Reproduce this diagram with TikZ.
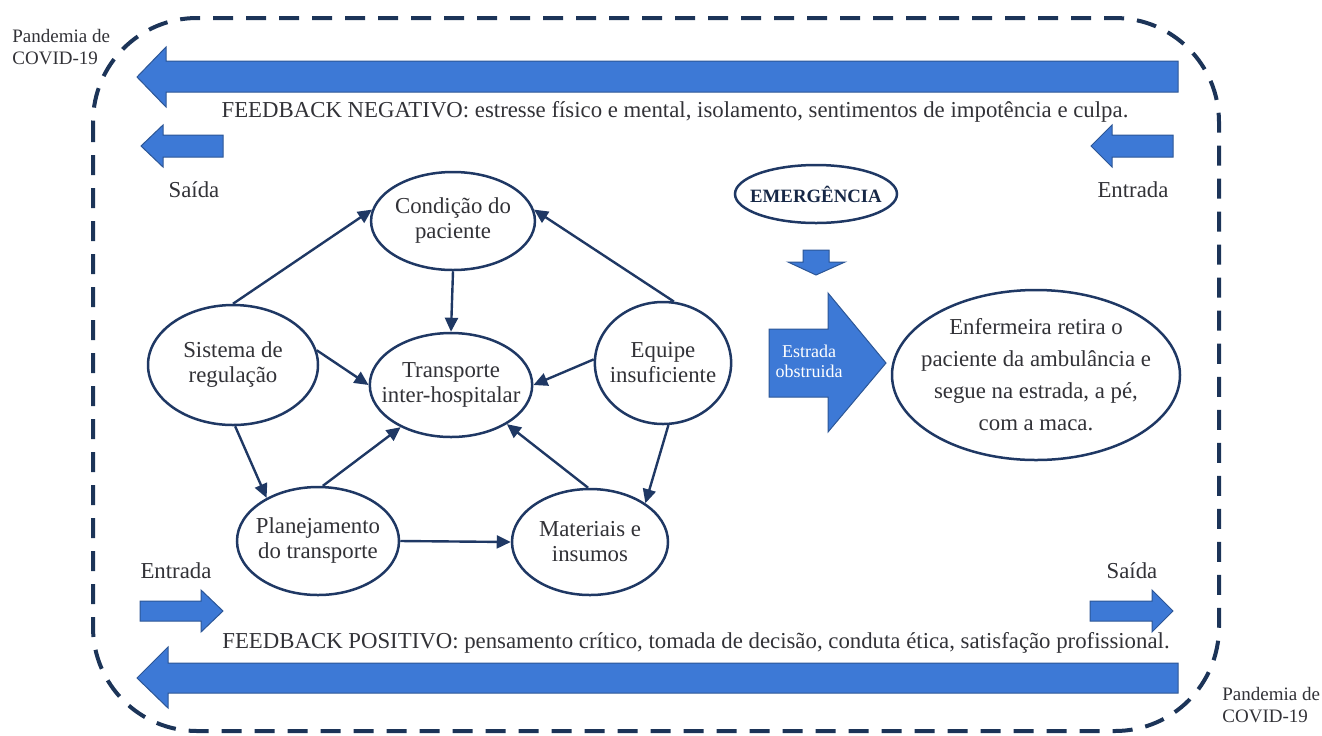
\documentclass[tikz,border=0pt]{standalone}
\usepackage{fontspec}
\setmainfont{Liberation Serif}
\usetikzlibrary{arrows.meta,shapes.geometric}

\definecolor{navy}{RGB}{31,56,100}
\definecolor{dashnavy}{RGB}{28,52,88}
\definecolor{boxblue}{RGB}{61,121,214}
\definecolor{boxedge}{RGB}{44,86,150}
\definecolor{txt}{RGB}{50,50,55}

\begin{document}
\begin{tikzpicture}[x=0.5pt,y=-0.5pt,
  factor/.style={ellipse, draw=navy, line width=1.25pt, fill=white, text=txt,
    align=center, inner sep=0pt, font=\fontsize{11.4}{12.5}\selectfont},
  link/.style={draw=navy, line width=1.2pt, -{Triangle[length=7pt,width=6.5pt]}},
  flow/.style={fill=boxblue, draw=boxedge, line width=0.5pt},
  sidetext/.style={text=txt, font=\fontsize{11.4}{13}\selectfont},
  smalltext/.style={text=txt, align=left, anchor=west, inner sep=0pt,
    font=\fontsize{9.5}{11}\selectfont}
]
\useasboundingbox (0,0) rectangle (1322,735);

% system border
\draw[dashnavy, line width=2pt, dash pattern=on 10pt off 6.5pt, rounded corners=52pt]
  (93,18) rectangle (1219,731);
\node[smalltext] (pand1) at (12,47) {Pandemia de\\COVID-19};
\node[smalltext] (pand2) at (1222,705) {Pandemia de\\COVID-19};

% feedback arrows
\draw[flow] (1178,61) -- (166,61) -- (166,47) -- (137,77) -- (166,107) -- (166,92) -- (1178,92) -- cycle;
\node[sidetext] (fneg) at (675,112) {FEEDBACK NEGATIVO: estresse físico e mental, isolamento, sentimentos de impotência e culpa.};
\draw[flow] (1178,663) -- (168,663) -- (168,647) -- (137,678) -- (168,708) -- (168,693) -- (1178,693) -- cycle;
\node[sidetext] (fpos) at (696,643) {FEEDBACK POSITIVO: pensamento crítico, tomada de decisão, conduta ética, satisfação profissional.};

% inputs and outputs
\draw[flow] (223,135) -- (163,135) -- (163,125) -- (141,146) -- (163,167) -- (163,157) -- (223,157) -- cycle;
\node[sidetext] (said1) at (194,190) {Saída};
\draw[flow] (1173,135) -- (1112,135) -- (1112,125) -- (1091,146) -- (1112,167) -- (1112,157) -- (1173,157) -- cycle;
\node[sidetext] (entr1) at (1133,190) {Entrada};
\draw[flow] (140,601) -- (201,601) -- (201,590) -- (223,611) -- (201,632) -- (201,621) -- (140,621) -- cycle;
\node[sidetext] (entr2) at (176,571) {Entrada};
\draw[flow] (1090,601) -- (1152,601) -- (1152,590) -- (1173,611) -- (1152,632) -- (1152,621) -- (1090,621) -- cycle;
\node[sidetext] (said2) at (1132,571) {Saída};

% factors
\node[factor, minimum width=80pt, minimum height=49pt] (cond) at (453,221) {Condição do\\paciente};
\node[factor, minimum width=81pt, minimum height=52pt, inner xsep=-6pt] (trans) at (451,385) {Transporte\\inter-hospitalar};
\node[factor, minimum width=85pt, minimum height=60pt] (sis) at (233,365) {Sistema de\\regulação};
\node[factor, minimum width=68pt, minimum height=61pt, inner xsep=-2.5pt] (equ) at (663,363) {Equipe\\insuficiente};
\node[factor, minimum width=81pt, minimum height=54pt, inner xsep=-2.5pt] (plan) at (318,541) {Planejamento\\do transporte};
\node[factor, minimum width=78pt, minimum height=53pt] (mat) at (590,542) {Materiais e\\insumos};

\draw[link] (sis.north) -- (cond.172);
\draw[link] (cond.south) -- (trans.north);
\draw[link] (equ.80) -- (cond.8);
\draw[link] (sis.10) -- (trans.west);
\draw[link] (equ.177) -- (trans.east);
\draw[link] (sis.-88) -- (plan.140);
\draw[link] (plan.85) -- (trans.-140);
\draw[link] (mat.92) -- (trans.-35);
\draw[link] (equ.-85) -- (mat.35);
\draw[link] (plan.east) -- (mat.west);

% emergency
\node[factor, minimum width=81pt, minimum height=29pt, inner xsep=-8pt, text=navy!70!black,
  font=\fontsize{9.4}{11}\selectfont\bfseries] (emerg) at (816,194) {EMERGÊNCIA};
\draw[flow] (803,250) -- (829,250) -- (829,262) -- (845,262) -- (816,275) -- (788,262) -- (803,262) -- cycle;
\draw[flow] (769,329) -- (828,329) -- (828,293) -- (886,363) -- (828,432) -- (828,397) -- (769,397) -- cycle;
\node[text=white, align=center, font=\fontsize{9}{10}\selectfont] (road) at (809,361) {Estrada\\obstruida};
\node[factor, minimum width=144pt, minimum height=85pt, inner xsep=-7pt,
  font=\fontsize{11.4}{16}\selectfont] (enf) at (1036,375)
  {Enfermeira retira o\\paciente da ambulância e\\segue na estrada, a pé,\\com a maca.};
\end{tikzpicture}
\end{document}
